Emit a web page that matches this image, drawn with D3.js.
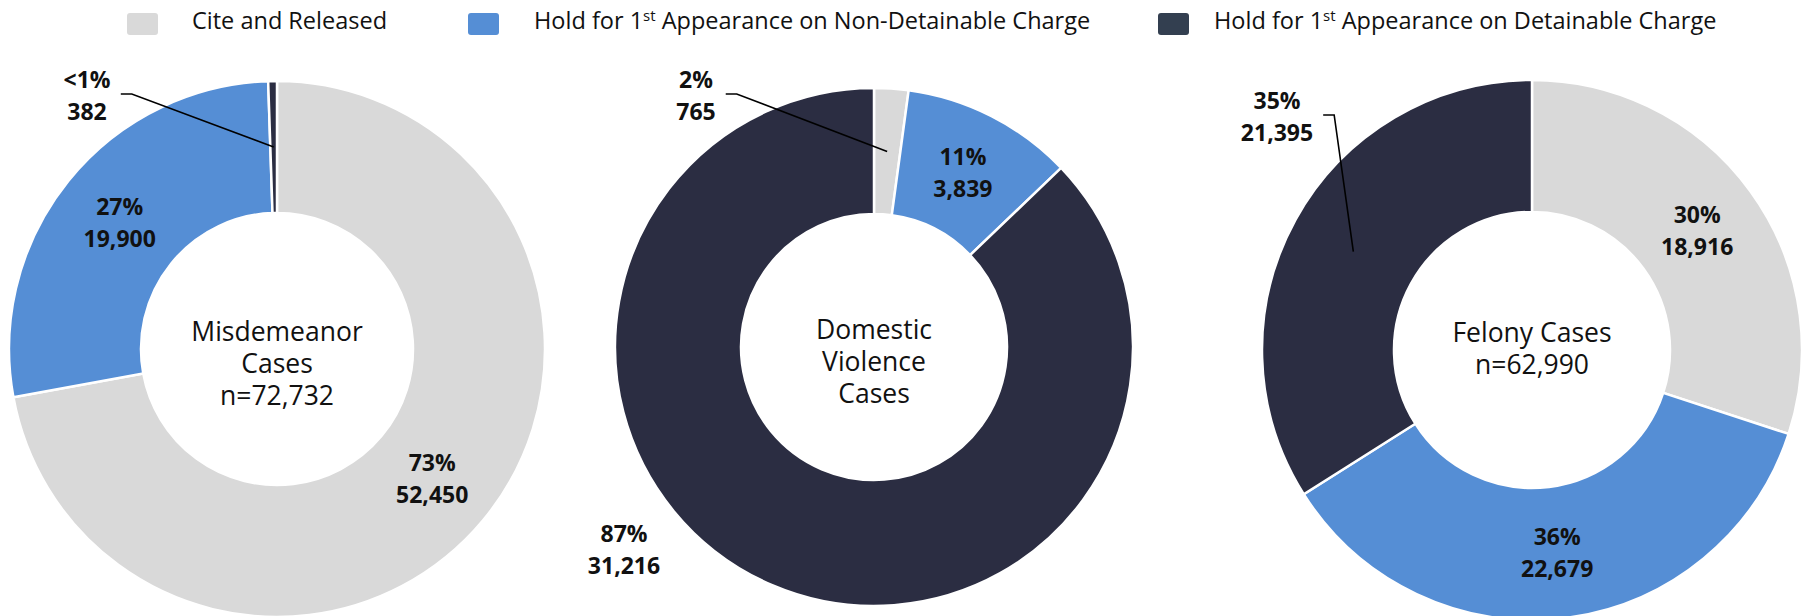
<!DOCTYPE html>
<html>
<head>
<meta charset="utf-8">
<script src="https://cdn.jsdelivr.net/npm/d3@7"></script>
<style>
  body { margin: 0; background: #fff; }
  svg { display: block; font-family: "Open Sans", sans-serif; }
</style>
</head>
<body>
<svg width="1808" height="616"></svg>
<script>
// data
const categories = ["Cite and Released", "Hold for 1st Appearance on Non-Detainable Charge", "Hold for 1st Appearance on Detainable Charge"]
const caseTypes = ["Misdemeanor Cases", "Domestic Violence Cases", "Felony Cases"]
const centerTitles = [["Misdemeanor", "Cases", "n=72,732"], ["Domestic", "Violence", "Cases"], ["Felony Cases", "n=62,990"]]
const citeReleased = [52450, 765, 18916]
const holdNonDetainable = [19900, 3839, 22679]
const holdDetainable = [382, 31216, 21395]
const pctCite = ["73%", "2%", "30%"]
const pctNonDetainable = ["27%", "11%", "36%"]
const pctDetainable = ["<1%", "87%", "35%"]

const donutColors = ["#D9D9D9", "#558ED5", "#2B2D42"]
const legendColors = ["#D9D9D9", "#558ED5", "#333F50"]

// layout of each donut
const layout = [
    {cx: 277, cy: 349, r0: 136, r1: 268},
    {cx: 874, cy: 347, r0: 133, r1: 259},
    {cx: 1532, cy: 350, r0: 138, r1: 270}
]
// labels that sit outside the ring: offset from donut centre, and whether a leader is drawn
const outside = {
    "0-2": {dx: -190, dy: -254, leader: true},
    "1-0": {dx: -178, dy: -252, leader: true},
    "1-2": {dx: -250, dy: 202, leader: false},
    "2-2": {dx: -255, dy: -234, leader: true}
}

const fmt = d3.format(",")
const svg = d3.select("svg")

const donuts = caseTypes.map((name, i) => ({
    name: name,
    slices: [
        {value: citeReleased[i], pct: pctCite[i], cat: 0},
        {value: holdNonDetainable[i], pct: pctNonDetainable[i], cat: 1},
        {value: holdDetainable[i], pct: pctDetainable[i], cat: 2}
    ]
}))

const pie = d3.pie().sort(null).value(d => d.value)

donuts.forEach((donut, i) => {
    const L = layout[i]
    const arc = d3.arc().innerRadius(L.r0).outerRadius(L.r1)
    const mid = d3.arc().innerRadius((L.r0 + L.r1) / 2).outerRadius((L.r0 + L.r1) / 2)
    const arcs = pie(donut.slices)

    const g = svg.append("g")
        .attr("class", "donut")
        .attr("transform", `translate(${L.cx}, ${L.cy})`)

    g.selectAll("path.slice")
        .data(arcs)
        .enter()
        .append("path")
        .attr("class", "slice")
        .attr("d", arc)
        .style("fill", d => donutColors[d.data.cat])
        .style("stroke", "#fff")
        .style("stroke-width", 2.5)

    // centre title, one text per line
    g.selectAll("text.title")
        .data(centerTitles[i])
        .enter()
        .append("text")
        .attr("class", "title")
        .attr("text-anchor", "middle")
        .attr("dominant-baseline", "central")
        .attr("y", (d, k) => -18 + k * 32)
        .style("font-size", "26.5px")
        .style("fill", "#111")
        .text(d => d)

    arcs.forEach((a, k) => {
        const key = `${i}-${k}`
        const c = mid.centroid(a)
        const pos = outside[key] ? [outside[key].dx, outside[key].dy] : c
        const lab = g.append("text")
            .attr("text-anchor", "middle")
            .style("font-size", "23px")
            .style("font-weight", "bold")
            .style("fill", "#111")
        lab.append("tspan")
            .attr("x", pos[0])
            .attr("y", pos[1] - 16)
            .attr("dominant-baseline", "central")
            .text(a.data.pct)
        lab.append("tspan")
            .attr("x", pos[0])
            .attr("y", pos[1] + 16)
            .attr("dominant-baseline", "central")
            .text(fmt(a.data.value))

        if(outside[key] && outside[key].leader){
            const box = lab.node().getBBox()
            const x0 = box.x + box.width + 10
            const y0 = pos[1] - 1
            g.append("path")
                .attr("d", `M${x0},${y0}H${x0 + 11}L${c[0]},${c[1]}`)
                .style("fill", "none")
                .style("stroke", "#000")
                .style("stroke-width", 1.6)
        }
    })
})

// legend
const legendX = [127, 468, 1158]
const legendTextX = [192, 534, 1214]
const legend = svg.append("g").attr("class", "legend")
categories.forEach((cat, i) => {
    legend.append("rect")
        .attr("x", legendX[i])
        .attr("y", 13)
        .attr("width", 31)
        .attr("height", 22)
        .attr("rx", 3)
        .style("fill", legendColors[i])

    const t = legend.append("text")
        .attr("x", legendTextX[i])
        .attr("y", 29)
        .style("font-size", "23.5px")
        .style("fill", "#111")
    const parts = cat.split("1st")
    if(parts.length > 1){
        t.append("tspan").text(parts[0] + "1")
        t.append("tspan").attr("dy", -8).style("font-size", "15px").text("st")
        t.append("tspan").attr("dy", 8).text(parts[1])
    } else {
        t.text(cat)
    }
})
</script>
</body>
</html>
